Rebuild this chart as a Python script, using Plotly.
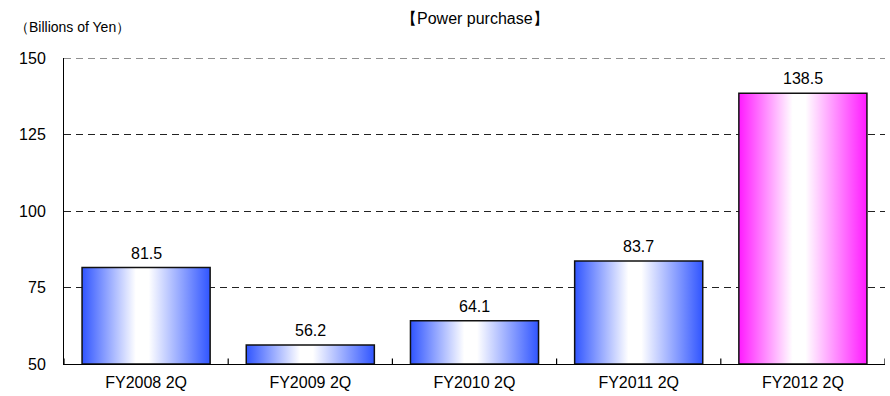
import plotly.graph_objects as go

# Power purchase cost by fiscal half-year (billions of yen)
categories = ["FY2008 2Q", "FY2009 2Q", "FY2010 2Q", "FY2011 2Q", "FY2012 2Q"]
values = [81.5, 56.2, 64.1, 83.7, 138.5]
value_labels = ["81.5", "56.2", "64.1", "83.7", "138.5"]
y_ticks = [50, 75, 100, 125, 150]

AXIS_MIN, AXIS_MAX = 50, 150
BAR_WIDTH = 0.78
BLUE = "#3055ff"
MAGENTA = "#ff1aff"
FONT = "Liberation Sans, Arial, sans-serif"
GRID_DASH = "7px,5px"

n = len(categories)
fig = go.Figure()

for i, (cat, v) in enumerate(zip(categories, values)):
    edge = MAGENTA if i == n - 1 else BLUE
    x0, x1 = i - BAR_WIDTH / 2, i + BAR_WIDTH / 2
    fig.add_trace(go.Scatter(
        x=[x0, x1, x1, x0, x0],
        y=[AXIS_MIN, AXIS_MIN, v, v, AXIS_MIN],
        mode="lines",
        fill="toself",
        fillgradient=dict(
            type="horizontal",
            colorscale=[[0, edge], [0.42, "#ffffff"], [0.52, "#ffffff"], [1, edge]],
        ),
        line=dict(color="#111111", width=1.5),
        hoverinfo="skip",
        showlegend=False,
    ))

annotations = [
    dict(x=i, y=v, text=lbl, xref="x", yref="y", showarrow=False,
         yanchor="bottom", yshift=4, font=dict(family=FONT, size=16))
    for i, (v, lbl) in enumerate(zip(values, value_labels))
]
annotations += [
    dict(text="【Power purchase】", xref="paper", yref="paper",
         x=0.5, y=1, yshift=50, showarrow=False,
         font=dict(family=FONT, size=16)),
    dict(text="（Billions of Yen）", xref="paper", yref="paper",
         x=-0.062, y=1, yshift=41, xanchor="left", showarrow=False,
         font=dict(family=FONT, size=14)),
]

shapes = [
    # gridline at the top of the value range
    dict(type="line", xref="x domain", yref="y", x0=0, x1=1,
         y0=AXIS_MAX, y1=AXIS_MAX,
         line=dict(color="#222222", width=1, dash=GRID_DASH),
         layer="below"),
]
# short category-divider ticks standing up from the x axis
for k in range(n + 1):
    shapes.append(dict(type="line", xref="x", yref="y domain",
                       x0=k - 0.5, x1=k - 0.5, y0=0, y1=0.018,
                       line=dict(color="#000000", width=1.2),
                       layer="above"))

fig.update_layout(
    width=890,
    height=396,
    margin=dict(l=64, r=5, t=58, b=32),
    paper_bgcolor="white",
    plot_bgcolor="white",
    font=dict(family=FONT, size=16, color="#000000"),
    xaxis=dict(
        range=[-0.5, n - 0.5],
        tickvals=list(range(n)),
        ticktext=categories,
        ticks="",
        showgrid=False,
        zeroline=False,
        showline=True,
        linecolor="#000000",
        linewidth=1,
        ticklabelstandoff=4,
        tickfont=dict(size=16),
        fixedrange=True,
    ),
    yaxis=dict(
        range=[AXIS_MIN, AXIS_MAX],
        tickvals=y_ticks,
        ticks="",
        showgrid=True,
        gridcolor="#222222",
        gridwidth=1,
        griddash=GRID_DASH,
        zeroline=False,
        showline=True,
        linecolor="#000000",
        linewidth=1,
        ticklabelstandoff=14,
        tickfont=dict(size=16),
        fixedrange=True,
    ),
    shapes=shapes,
    annotations=annotations,
)

fig.write_html("out.html")
